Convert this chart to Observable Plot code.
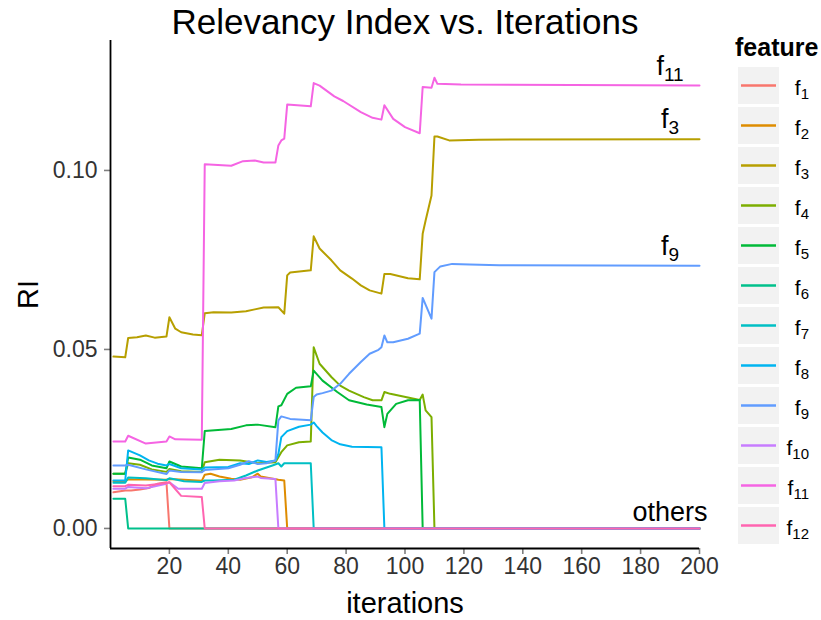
<!DOCTYPE html>
<html>
<head>
<meta charset="utf-8">
<script src="https://cdn.jsdelivr.net/npm/d3@7"></script>
<script src="https://cdn.jsdelivr.net/npm/@observablehq/plot@0.6"></script>
<style>
  body { margin: 0; background: #fff; }
  #chart { position: relative; width: 821px; height: 620px; }
</style>
</head>
<body>
<div id="chart"></div>
<script>
// Relevancy index (RI) of each feature over the iterations: [iteration, RI]
const features = ["f1", "f2", "f3", "f4", "f5", "f6", "f7", "f8", "f9", "f10", "f11", "f12"];
const colors = ["#F8766D", "#DE8C00", "#B79F00", "#7CAE00", "#00BA38", "#00C08B",
                "#00BFC4", "#00B4F0", "#619CFF", "#C77CFF", "#F564E3", "#FF64B0"];

const f1 = [[1,0.0101],[5,0.0106],[7,0.0106],[10,0.0109],[13,0.0113],[16,0.0125],[19,0.0129],[20,0],[200,0]];
const f2 = [[1,0.0132],[5,0.0132],[6,0.0137],[12,0.0137],[19,0.0136],[20,0.0138],[25,0.0136],[31,0.0133],[32,0.0150],[34,0.0153],[37,0.0145],[41,0.0139],[44,0.0136],[48,0.0143],[50,0.0153],[51,0.0145],[57,0.0136],[59,0.0134],[60,0],[200,0]];
const f3 = [[1,0.0480],[5,0.0478],[6,0.0532],[9,0.0534],[12,0.0539],[15,0.0533],[19,0.0536],[20,0.0590],[22,0.0558],[24,0.0548],[28,0.0542],[31,0.0540],[32,0.0601],[35,0.0604],[41,0.0603],[46,0.0607],[49,0.0612],[52,0.0617],[57,0.0618],[59,0.0600],[60,0.0707],[61,0.0715],[68,0.0721],[69,0.0816],[71,0.0782],[75,0.0749],[78,0.0721],[82,0.0698],[85,0.0679],[88,0.0665],[92,0.0656],[93,0.0711],[95,0.0711],[101,0.0699],[105,0.0696],[106,0.0823],[107,0.0860],[108,0.0895],[109,0.0930],[110,0.1095],[111,0.1095],[115,0.1084],[125,0.1086],[200,0.1087]];
const f4 = [[1,0.0153],[5,0.0153],[6,0.0182],[10,0.0178],[14,0.0165],[19,0.0158],[20,0.0166],[24,0.0160],[31,0.0158],[32,0.0185],[37,0.0192],[44,0.0190],[50,0.0182],[56,0.0185],[58,0.0213],[60,0.0232],[64,0.0241],[68,0.0243],[69,0.0506],[71,0.0460],[75,0.0423],[78,0.0399],[81,0.0385],[86,0.0367],[89,0.0358],[92,0.0358],[93,0.0381],[95,0.0376],[105,0.0359],[106,0.0374],[107,0.0330],[109,0.0311],[110,0],[200,0]];
const f5 = [[1,0.0153],[5,0.0153],[6,0.0198],[10,0.0192],[14,0.0176],[19,0.0168],[20,0.0187],[24,0.0173],[31,0.0168],[32,0.0272],[41,0.0278],[46,0.0288],[50,0.0290],[56,0.0283],[57,0.0341],[58,0.0344],[60,0.0376],[63,0.0393],[68,0.0397],[69,0.0441],[72,0.0413],[77,0.0381],[81,0.0358],[87,0.0346],[92,0.0339],[93,0.0283],[94,0.0320],[97,0.0348],[101,0.0358],[105,0.0359],[106,0],[200,0]];
const f6 = [[1,0.0083],[5,0.0083],[6,0],[200,0]];
const f7 = [[1,0.0128],[5,0.0128],[6,0.0142],[12,0.0140],[19,0.0135],[20,0.0140],[25,0.0132],[31,0.0130],[32,0.0134],[35,0.0134],[42,0.0136],[46,0.0148],[50,0.0162],[55,0.0176],[57,0.0182],[58,0.0173],[59,0.0182],[68,0.0182],[69,0],[200,0]];
const f8 = [[1,0.0134],[5,0.0134],[6,0.0218],[10,0.0204],[13,0.0190],[16,0.0181],[19,0.0176],[20,0.0180],[24,0.0168],[31,0.0165],[32,0.0170],[40,0.0172],[44,0.0182],[47,0.0180],[50,0.0190],[53,0.0186],[56,0.0190],[57,0.0208],[58,0.0255],[60,0.0272],[64,0.0284],[68,0.0290],[69,0.0296],[70,0.0286],[72,0.0268],[75,0.0247],[78,0.0235],[82,0.0228],[92,0.0227],[93,0],[200,0]];
const f9 = [[1,0.0176],[5,0.0176],[6,0.0178],[12,0.0165],[19,0.0152],[20,0.0162],[24,0.0158],[31,0.0157],[32,0.0163],[40,0.0168],[44,0.0178],[47,0.0188],[50,0.0180],[53,0.0182],[56,0.0190],[57,0.0302],[58,0.0313],[61,0.0306],[68,0.0302],[69,0.0367],[70,0.0374],[72,0.0378],[75,0.0385],[78,0.0404],[81,0.0432],[85,0.0465],[88,0.0488],[91,0.0499],[92,0.0506],[93,0.0539],[94,0.0520],[96,0.0520],[101,0.0530],[105,0.0544],[106,0.0644],[109,0.0586],[110,0.0716],[112,0.0732],[116,0.0739],[122,0.0737],[132,0.0735],[200,0.0734]];
const f10 = [[1,0.0111],[5,0.0111],[6,0.0116],[12,0.0112],[19,0.0125],[20,0.0129],[23,0.0111],[31,0.0111],[32,0.0127],[37,0.0132],[42,0.0134],[46,0.0141],[50,0.0145],[51,0.0141],[56,0.0138],[57,0],[200,0]];
const f11 = [[1,0.0243],[5,0.0243],[6,0.0259],[12,0.0237],[19,0.0243],[20,0.0257],[22,0.0249],[31,0.0248],[32,0.1017],[41,0.1013],[45,0.1026],[49,0.1028],[52,0.1022],[56,0.1022],[57,0.1070],[58,0.1084],[59,0.1089],[60,0.1184],[68,0.1179],[69,0.1244],[71,0.1237],[76,0.1207],[79,0.1194],[85,0.1163],[89,0.1147],[92,0.1142],[93,0.1182],[96,0.1144],[100,0.1121],[105,0.1104],[106,0.1233],[109,0.1231],[110,0.1259],[111,0.1242],[119,0.1240],[200,0.1237]];
const f12 = [[1,0.0118],[5,0.0118],[6,0.0122],[12,0.0120],[19,0.0127],[20,0.0129],[24,0.0091],[31,0.0088],[32,0],[200,0]];

const seriesList = [f1, f2, f3, f4, f5, f6, f7, f8, f9, f10, f11, f12];

// axes
const xDomain = [0, 200];
const yDomain = [-0.0056, 0.1363];
const xTicks = [20, 40, 60, 80, 100, 120, 140, 160, 180, 200];
const yTicks = [0, 0.05, 0.10];

// labels
const titleText = "Relevancy Index vs. Iterations";
const xLabel = "iterations";
const yLabel = "RI";
const legendTitle = "feature";
const endLabels = ["f11", "f3", "f9"];
const othersLabel = "others";
const endLabelIteration = 190;

const font = '"Liberation Sans", Arial, Helvetica, sans-serif';
const byName = new Map(features.map((f, i) => [f, seriesList[i]]));
const rows = features.flatMap((f, i) =>
  seriesList[i].map(([iteration, RI]) => ({feature: f, iteration, RI})));

const plot = Plot.plot({
  width: 821,
  height: 620,
  marginLeft: 110,
  marginRight: 122,
  marginTop: 40,
  marginBottom: 72,
  style: {fontFamily: font, fontSize: "23px", background: "#fff", color: "#333", overflow: "visible"},
  x: {domain: xDomain, ticks: xTicks, tickSize: 6, tickPadding: 3, label: null},
  y: {domain: yDomain, ticks: yTicks, tickFormat: d3.format(".2f"), tickSize: 6, tickPadding: 7, label: null},
  color: {domain: features, range: colors},
  marks: [
    Plot.ruleX([xDomain[0]], {stroke: "#000", strokeWidth: 1.8}),
    Plot.ruleY([yDomain[0]], {stroke: "#000", strokeWidth: 1.8}),
    Plot.line(rows, {x: "iteration", y: "RI", z: "feature", stroke: "feature", strokeWidth: 2}),
    Plot.text(endLabels, {
      x: () => endLabelIteration,
      y: d => byName.get(d)[byName.get(d).length - 1][1],
      text: d => d,
      textAnchor: "middle", lineAnchor: "bottom", dy: -11,
      fontSize: 27, fill: "#000"
    }),
    Plot.text([othersLabel], {
      x: () => endLabelIteration, y: () => 0, text: d => d,
      textAnchor: "middle", lineAnchor: "bottom", dy: -7,
      fontSize: 27, fill: "#000"
    }),
    Plot.text([titleText], {
      frameAnchor: "top", text: d => d, lineAnchor: "bottom", dy: -7,
      fontSize: 35, fill: "#000"
    }),
    Plot.text([xLabel], {
      frameAnchor: "bottom", text: d => d, lineAnchor: "bottom", dy: 64,
      fontSize: 29, fill: "#000"
    }),
    Plot.text([yLabel], {
      frameAnchor: "left", text: d => d, rotate: -90, textAnchor: "middle",
      lineAnchor: "bottom", dx: -73, fontSize: 29, fill: "#000"
    })
  ]
});

document.getElementById("chart").appendChild(plot);

const svg = d3.select(plot);

// tick marks in grey
svg.selectAll('g[aria-label^="x-axis"] line, g[aria-label^="y-axis"] line, g[aria-label$="axis tick"] path')
  .attr("stroke", "#7f7f7f").attr("stroke-width", 1.6);

// "f" + subscript index
function subscript(sel, subSize) {
  sel.each(function() {
    const m = /^f(\d+)$/.exec(this.textContent);
    if (!m) return;
    const t = d3.select(this);
    t.text(null);
    t.append("tspan").text("f");
    t.append("tspan").attr("dy", "0.32em").attr("font-size", subSize).text(m[1]);
  });
}
// line-end labels (the only feature names in the plot so far)
subscript(svg.selectAll("text"), 19);

// legend
const legend = svg.append("g").attr("font-family", font).attr("text-anchor", "start");
legend.append("text")
  .attr("x", 735).attr("y", 56)
  .attr("font-size", 25).attr("font-weight", "bold").attr("fill", "#000")
  .text(legendTitle);
const item = legend.selectAll("g.item").data(features).join("g")
  .attr("class", "item")
  .attr("transform", (d, i) => `translate(738,${67 + i * 40})`);
item.append("rect").attr("width", 41).attr("height", 37).attr("fill", "#f2f2f2");
item.append("line")
  .attr("x1", 3).attr("x2", 38).attr("y1", 18.5).attr("y2", 18.5)
  .attr("stroke", (d, i) => colors[i]).attr("stroke-width", 2.5);
item.append("text")
  .attr("x", 71).attr("y", 27.5)
  .attr("text-anchor", "end").attr("font-size", 21).attr("fill", "#000")
  .text(d => d);
subscript(item.selectAll("text"), 15);
</script>
</body>
</html>
